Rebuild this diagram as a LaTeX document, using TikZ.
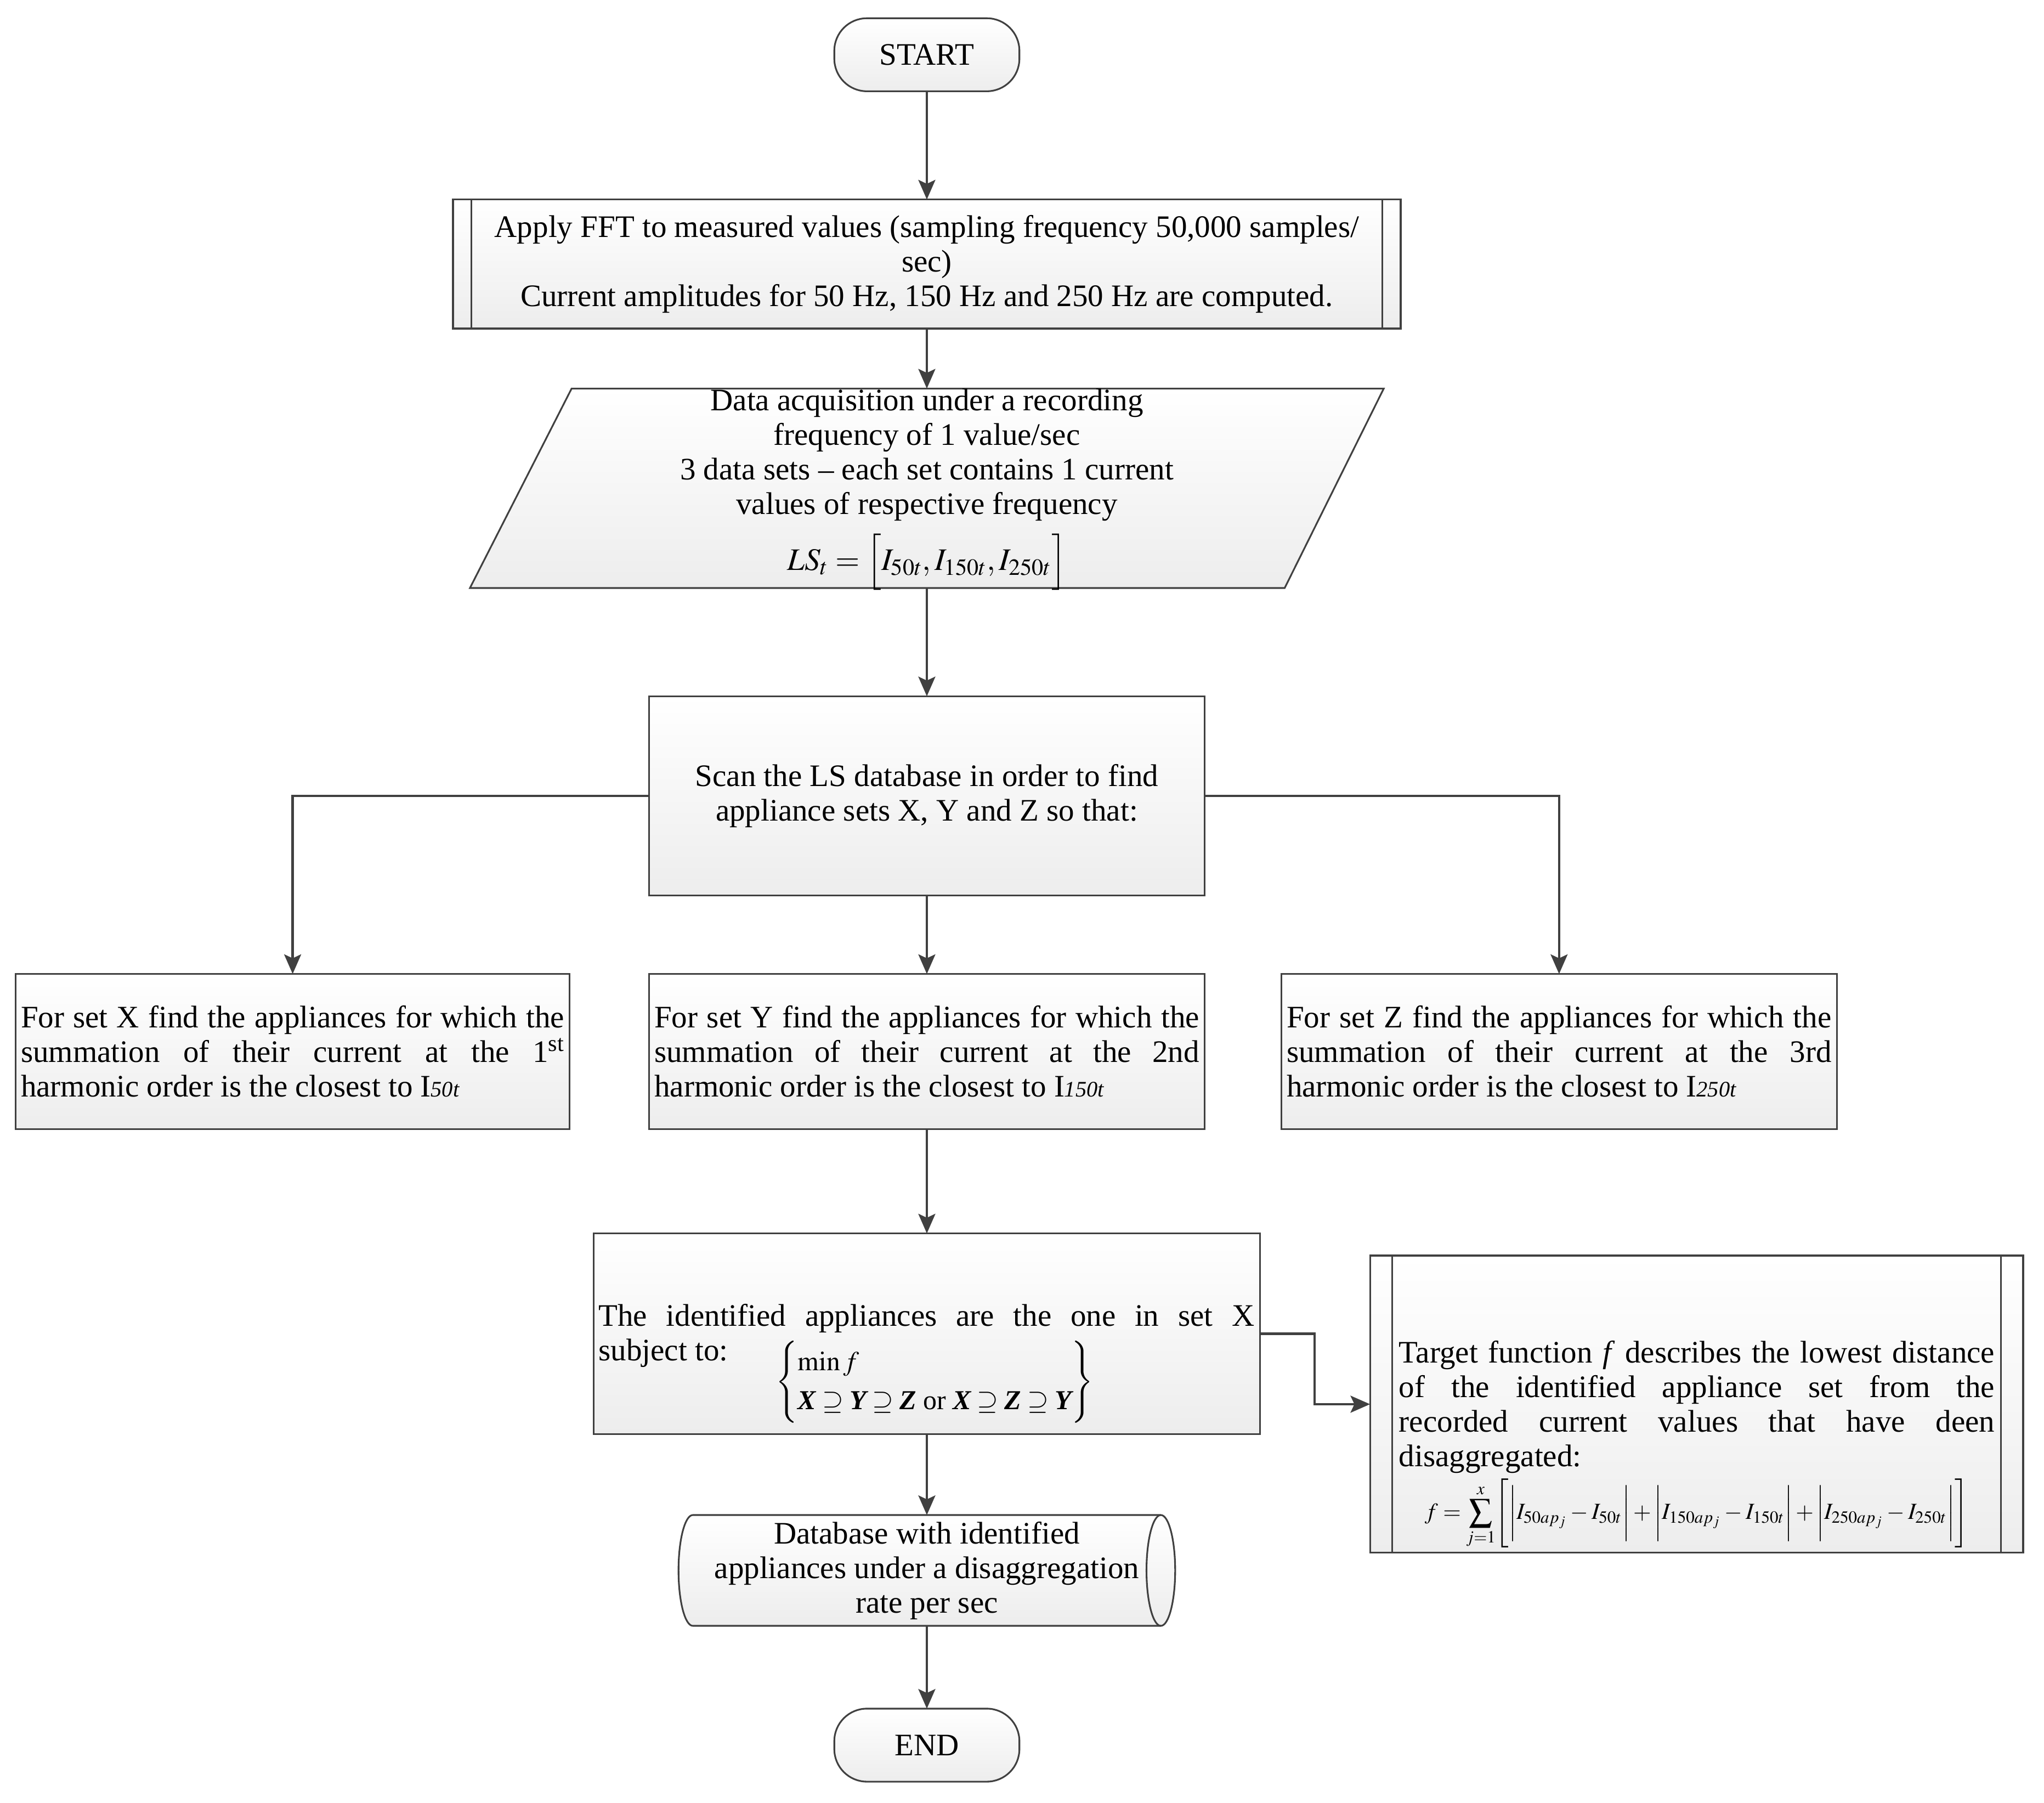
\documentclass[tikz,border=0pt]{standalone}
\usepackage{amsmath}
\usepackage{mathptmx}
\usepackage{fontspec}
\setmainfont{Liberation Serif}
\usepackage{graphicx}
\usetikzlibrary{arrows.meta,calc}
\hyphenpenalty=10000
\exhyphenpenalty=10000
\definecolor{edgec}{HTML}{404040}
\definecolor{shadeb}{HTML}{EDEDED}
\newcommand{\subI}[1]{I{\fontsize{17}{17}\selectfont\itshape #1}}
\newcommand{\bxyz}[1]{\text{\bfseries\itshape #1}}
\tikzset{
  basefont/.style={font=\fontsize{24}{26.5}\selectfont},
  boxfill/.style={draw=edgec, line width=1.3pt, top color=white, bottom color=shadeb},
  procbox/.style={boxfill, rectangle, inner sep=4pt, outer sep=0pt, basefont},
  shapeonly/.style={rectangle, inner sep=0pt, outer sep=0pt},
  txt/.style={inner sep=0pt, align=center, basefont},
  jtxt/.style={inner sep=0pt, align=justify, basefont},
  arr/.style={draw=edgec, line width=1.8pt, -{Stealth[length=15pt,width=13pt,inset=3pt]}},
  bar/.style={draw=edgec, line width=1.3pt},
}
\begin{document}
\begin{tikzpicture}[x=1pt,y=-1pt]
\fill[white] (0,0) rectangle (1568,1382.5);
\useasboundingbox (0,0) rectangle (1568,1382.5);

% START
\node[procbox, rounded corners=25pt, minimum width=142pt, minimum height=56pt] (start) at (711,42) {START};

% FFT (predefined process)
\node[procbox, minimum width=727pt, minimum height=99pt, align=center] (fft) at (711,202.5)
  {Apply FFT to measured values (sampling frequency 50,000 samples/\\sec)\\Current amplitudes for 50 Hz, 150 Hz and 250 Hz are computed.};
\draw[bar] ([xshift=14pt]fft.north west) -- ([xshift=14pt]fft.south west);
\draw[bar] ([xshift=-14pt]fft.north east) -- ([xshift=-14pt]fft.south east);

% Data acquisition (parallelogram)
\node[shapeonly, minimum width=701pt, minimum height=153pt] (acq) at (711,374.5) {};
\path[boxfill] ([xshift=78pt]acq.north west) -- (acq.north east) -- ([xshift=-76pt]acq.south east) -- (acq.south west) -- cycle;
\node[txt, anchor=north] (acqtxt) at (acq.north)
  {Data acquisition under a recording\\frequency of 1 value/sec\\3 data sets – each set contains 1 current\\values of respective frequency\\[9pt]$LS_t=\Bigl[I_{50t},I_{150t},I_{250t}\Bigr]$};

% Scan
\node[procbox, minimum width=426pt, minimum height=153pt, align=center] (scan) at (711,610.5)
  {Scan the LS database in order to find\\appliance sets X, Y and Z so that:};

% X, Y, Z
\node[procbox, minimum height=119pt, text width=417pt, align=justify] (xset) at (224.5,806.5)
  {For set X find the appliances for which the\linebreak summation of their current at the 1\textsuperscript{st}\linebreak harmonic order is the closest to \subI{50t}};
\node[procbox, minimum height=119pt, text width=418pt, align=justify] (yset) at (711,806.5)
  {For set Y find the appliances for which the\linebreak summation of their current at the 2nd\linebreak harmonic order is the closest to \subI{150t}};
\node[procbox, minimum height=119pt, text width=418pt, align=justify] (zset) at (1196,806.5)
  {For set Z find the appliances for which the\linebreak summation of their current at the 3rd\linebreak harmonic order is the closest to \subI{250t}};

% Identified appliances
\node[procbox, minimum width=511pt, minimum height=154pt] (ident) at (711,1023) {};
\node[jtxt, text width=503pt, anchor=north west] (identtxt) at (459,1000)
  {The identified appliances are the one in set X\linebreak subject to:};
\node[inner sep=0pt, basefont] (identf) at (717,1060)
  {\fontsize{21}{25}\selectfont\renewcommand{\arraystretch}{1.2}$\left\{\begin{array}{@{}l@{}}\min f\\ \bxyz{X}\supseteq\bxyz{Y}\supseteq\bxyz{Z}\ \text{or}\ \bxyz{X}\supseteq\bxyz{Z}\supseteq\bxyz{Y}\end{array}\right\}$};

% Target function (predefined process)
\node[procbox, minimum width=501pt, minimum height=228pt] (target) at (1301.5,1077) {};
\draw[bar] ([xshift=17pt]target.north west) -- ([xshift=17pt]target.south west);
\draw[bar] ([xshift=-17pt]target.north east) -- ([xshift=-17pt]target.south east);
\node[jtxt, text width=457pt, anchor=north west] (targettxt) at (1073,1028)
  {Target function \textit{f} describes the lowest distance\linebreak of the identified appliance set from the\linebreak recorded current values that have deen\linebreak disaggregated:};
\node[inner sep=0pt] (targetf) at (1301.5,1161)
  {\resizebox{417pt}{!}{$\displaystyle f=\sum_{j=1}^{x}\Biggl[\biggl|I_{50ap_j}-I_{50t}\biggr|+\biggl|I_{150ap_j}-I_{150t}\biggr|+\biggl|I_{250ap_j}-I_{250t}\biggr|\Biggr]$}};

% Database (stored data)
\node[shapeonly, minimum width=359pt, minimum height=85pt] (db) at (711,1204.5) {};
\path[boxfill] (db.north west) -- (db.north east)
  arc[start angle=90, end angle=-90, x radius=11pt, y radius=42.5pt]
  -- (db.south west)
  arc[start angle=270, end angle=90, x radius=11pt, y radius=42.5pt] -- cycle;
\draw[bar] (db.north east) arc[start angle=90, end angle=270, x radius=11pt, y radius=42.5pt];
\node[txt] (dbtxt) at (db.center) {Database with identified\\appliances under a disaggregation\\rate per sec};

% END
\node[procbox, rounded corners=25pt, minimum width=142pt, minimum height=56pt] (end) at (711,1338.5) {END};

% Connectors
\draw[arr] (start.south) -- (fft.north);
\draw[arr] (fft.south) -- (acq.north);
\draw[arr] (acq.south) -- (scan.north);
\draw[arr] (scan.west) -| (xset.north);
\draw[arr] (scan.south) -- (yset.north);
\draw[arr] (scan.east) -| (zset.north);
\draw[arr] (yset.south) -- (ident.north);
\draw[arr] (ident.east) -- ++(42,0) |- (target.west);
\draw[arr] (ident.south) -- (db.north);
\draw[arr] (db.south) -- (end.north);
\end{tikzpicture}
\end{document}
